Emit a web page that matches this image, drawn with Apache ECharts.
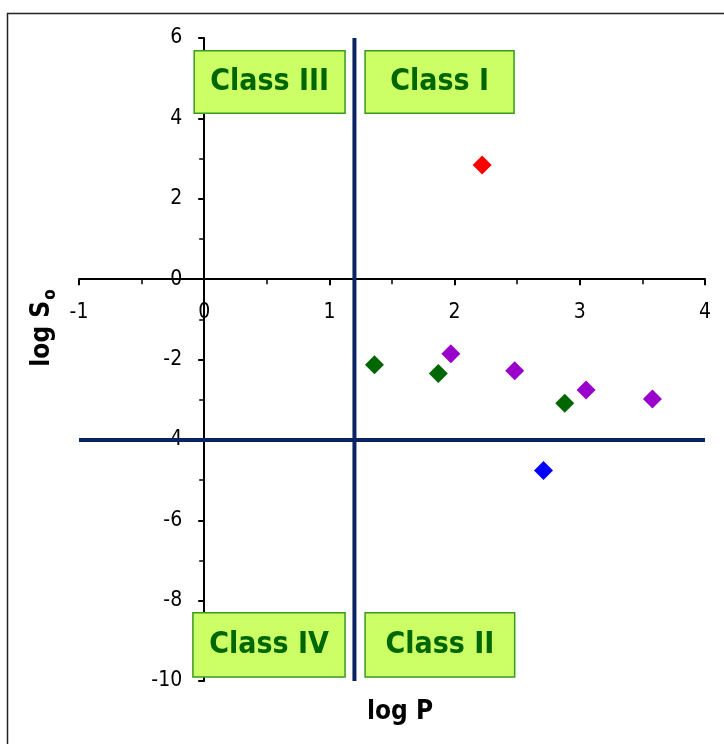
<!DOCTYPE html>
<html>
<head>
<meta charset="utf-8">
<script src="https://cdn.jsdelivr.net/npm/echarts@6/dist/echarts.min.js"></script>
<style>
  html, body { margin: 0; padding: 0; background: #fff; }
  #chart { width: 724px; height: 744px; }
</style>
</head>
<body>
<div id="chart"></div>
<script>
// Compound measurements: log P (x) vs log So (y), grouped by marker colour
const redPoints    = [[2.22, 2.84]];
const greenPoints  = [[1.36, -2.13], [1.87, -2.35], [2.88, -3.09]];
const purplePoints = [[1.97, -1.86], [2.48, -2.28], [3.05, -2.76], [3.58, -2.98]];
const bluePoints   = [[2.71, -4.76]];

// Class boundaries
const logPCut = 1.2;
const logSCut = -4;

// Quadrant captions
const classNames = ['Class III', 'Class I', 'Class IV', 'Class II'];

// Axis ranges
const xRange = [-1, 4];
const yRange = [-10, 6];

const FONT = '"Liberation Sans Narrow", "DejaVu Sans Condensed", sans-serif';
const NAVY = '#0a2463';

const W = 724, H = 744;
const grid = { left: 79, right: 19, top: 38, bottom: 63 };
const gridW = W - grid.left - grid.right;
const gridH = H - grid.top - grid.bottom;
// shift both axes (with their labels) so they cross at the origin
const xAxisOffset = -gridH * (0 - yRange[0]) / (yRange[1] - yRange[0]);
const yAxisOffset = -gridW * (0 - xRange[0]) / (xRange[1] - xRange[0]);

const chart = echarts.init(document.getElementById('chart'), null, { renderer: 'canvas' });

function classBox(name, x0, x1, y0, y1) {
  return [
    { name: name, coord: [x0, y1] },
    { coord: [x1, y0] }
  ];
}

function scatter(data, color) {
  return {
    type: 'scatter',
    data: data,
    symbol: 'diamond',
    symbolSize: 19,
    itemStyle: { color: color, opacity: 1 },
    z: 5
  };
}

const option = {
  animation: false,
  grid: grid,
  xAxis: {
    type: 'value',
    min: xRange[0], max: xRange[1], interval: 1,
    position: 'bottom',
    offset: xAxisOffset,
    axisLine: { onZero: false, lineStyle: { color: '#000', width: 2 } },
    axisTick: { inside: false, length: 6, lineStyle: { color: '#000', width: 2 } },
    minorTick: { show: true, splitNumber: 2, length: 5, lineStyle: { color: '#000', width: 1.5 } },
    axisLabel: { color: '#000', fontSize: 21, fontFamily: FONT, margin: 23 },
    splitLine: { show: false }
  },
  yAxis: {
    type: 'value',
    min: yRange[0], max: yRange[1], interval: 2,
    position: 'left',
    offset: yAxisOffset,
    axisLine: { onZero: false, lineStyle: { color: '#000', width: 2 } },
    axisTick: { inside: false, length: 6, lineStyle: { color: '#000', width: 2 } },
    minorTick: { show: true, splitNumber: 2, length: 5, lineStyle: { color: '#000', width: 1.5 } },
    axisLabel: { color: '#000', fontSize: 21, fontFamily: FONT, margin: 22 },
    splitLine: { show: false }
  },
  series: [
    {
      // class boundary lines
      type: 'line',
      data: [[logPCut, yRange[1]], [logPCut, yRange[0]]],
      symbol: 'none',
      lineStyle: { color: NAVY, width: 4 },
      z: 3
    },
    {
      type: 'line',
      data: [[xRange[0], logSCut], [xRange[1], logSCut]],
      symbol: 'none',
      lineStyle: { color: NAVY, width: 4 },
      z: 3
    },
    {
      // quadrant caption boxes
      type: 'scatter',
      data: [],
      markArea: {
        silent: true,
        itemStyle: { color: '#ccff66', borderColor: '#3a9a1e', borderWidth: 1.5 },
        label: {
          show: true, position: 'inside',
          color: '#006600', fontSize: 30, fontWeight: 'bold', fontFamily: FONT
        },
        data: [
          classBox(classNames[0], -0.08, 1.125, 4.13, 5.68),
          classBox(classNames[1], 1.285, 2.475, 4.13, 5.68),
          classBox(classNames[2], -0.09, 1.125, -9.9, -8.3),
          classBox(classNames[3], 1.285, 2.48, -9.9, -8.3)
        ]
      },
      z: 4
    },
    scatter(redPoints, '#ff0000'),
    scatter(greenPoints, '#006600'),
    scatter(purplePoints, '#9900cc'),
    scatter(bluePoints, '#0000ff')
  ],
  graphic: [
    {
      type: 'rect',
      shape: { x: 7.5, y: 13.5, width: 800, height: 800 },
      style: { fill: 'none', stroke: '#222', lineWidth: 1.5 },
      silent: true, z: 0
    },
    {
      type: 'text',
      x: 400, y: 712,
      style: {
        text: 'log P',
        fill: '#000',
        font: 'bold 26px ' + FONT,
        textAlign: 'center', textVerticalAlign: 'middle'
      }
    },
    {
      type: 'text',
      x: 42, y: 328,
      rotation: Math.PI / 2,
      style: {
        text: '{m|log S}{s|o}',
        textAlign: 'center', textVerticalAlign: 'middle',
        rich: {
          m: { fill: '#000', fontSize: 26, fontWeight: 'bold', fontFamily: FONT, lineHeight: 34, verticalAlign: 'middle' },
          s: { fill: '#000', fontSize: 17, fontWeight: 'bold', fontFamily: FONT, lineHeight: 34, verticalAlign: 'bottom', padding: [12, 0, 0, 1] }
        }
      }
    }
  ]
};

chart.setOption(option);
</script>
</body>
</html>
